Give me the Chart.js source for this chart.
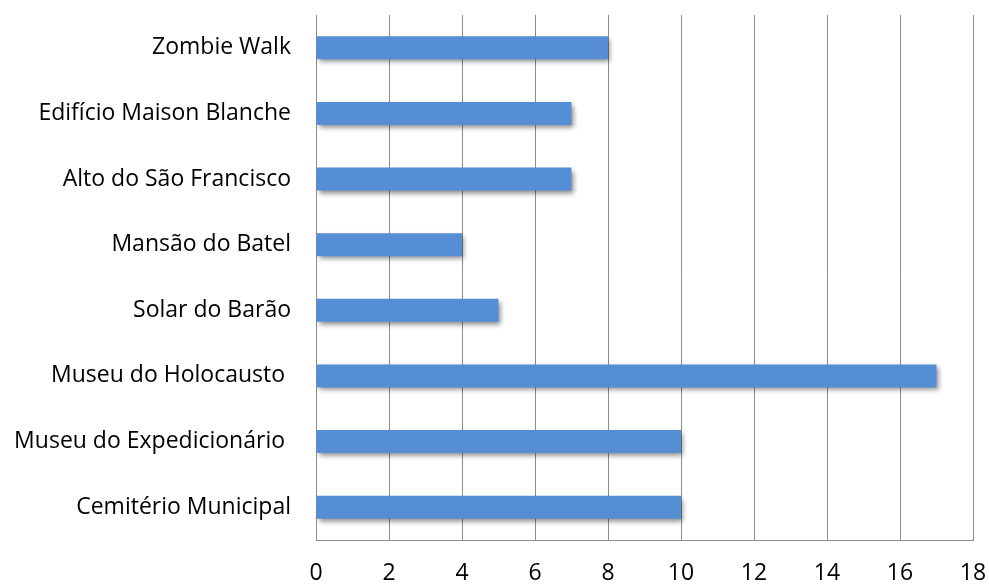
<!DOCTYPE html>
<html>
<head>
<meta charset="utf-8">
<script src="https://cdn.jsdelivr.net/npm/chart.js@4/dist/chart.umd.min.js"></script>
<style>
html,body{margin:0;padding:0;background:#fff;}
#wrap{width:989px;height:585px;position:relative;}
</style>
</head>
<body>
<div id="wrap"><canvas id="c" width="989" height="585"></canvas></div>
<script>
const categories = ["Zombie Walk", "Edifício Maison Blanche", "Alto do São Francisco", "Mansão do Batel", "Solar do Barão", "Museu do Holocausto ", "Museu do Expedicionário ", "Cemitério Municipal"];
const values = [8, 7, 7, 4, 5, 17, 10, 10];
const xMin = 0, xMax = 18, xStep = 2;

const shadowPlugin = {
  id: 'barShadow',
  beforeDatasetDraw(chart) {
    const ctx = chart.ctx;
    ctx.save();
    ctx.shadowColor = 'rgba(0,0,0,0.45)';
    ctx.shadowBlur = 5;
    ctx.shadowOffsetX = 2;
    ctx.shadowOffsetY = 3;
  },
  afterDatasetDraw(chart) {
    chart.ctx.restore();
  }
};

const FONT = "'Open Sans', Lato, sans-serif";

new Chart(document.getElementById('c'), {
  type: 'bar',
  data: {
    labels: categories,
    datasets: [{
      data: values,
      backgroundColor: '#558ED5',
      borderWidth: 0,
      categoryPercentage: 1,
      barPercentage: 0.35
    }]
  },
  options: {
    indexAxis: 'y',
    responsive: false,
    animation: false,
    devicePixelRatio: 1,
    layout: { padding: { left: 0, right: 16, top: 15, bottom: 0 } },
    plugins: { legend: { display: false }, tooltip: { enabled: false } },
    scales: {
      x: {
        min: xMin, max: xMax,
        ticks: { stepSize: xStep, color: '#000', font: { family: FONT, size: 23 }, padding: 20 },
        grid: { color: '#8c8c8c', lineWidth: 1, drawTicks: false },
        border: { color: '#8c8c8c' },
        afterFit(s) { s.height = 45; s.paddingLeft = 0; s.paddingRight = 0; }
      },
      y: {
        ticks: { color: '#000', font: { family: FONT, size: 23 }, padding: 25 },
        grid: { display: false, drawTicks: false },
        border: { color: '#8c8c8c' },
        afterFit(s) { s.width = 316; s.paddingTop = 0; s.paddingBottom = 0; }
      }
    }
  },
  plugins: [shadowPlugin]
});
</script>
</body>
</html>
